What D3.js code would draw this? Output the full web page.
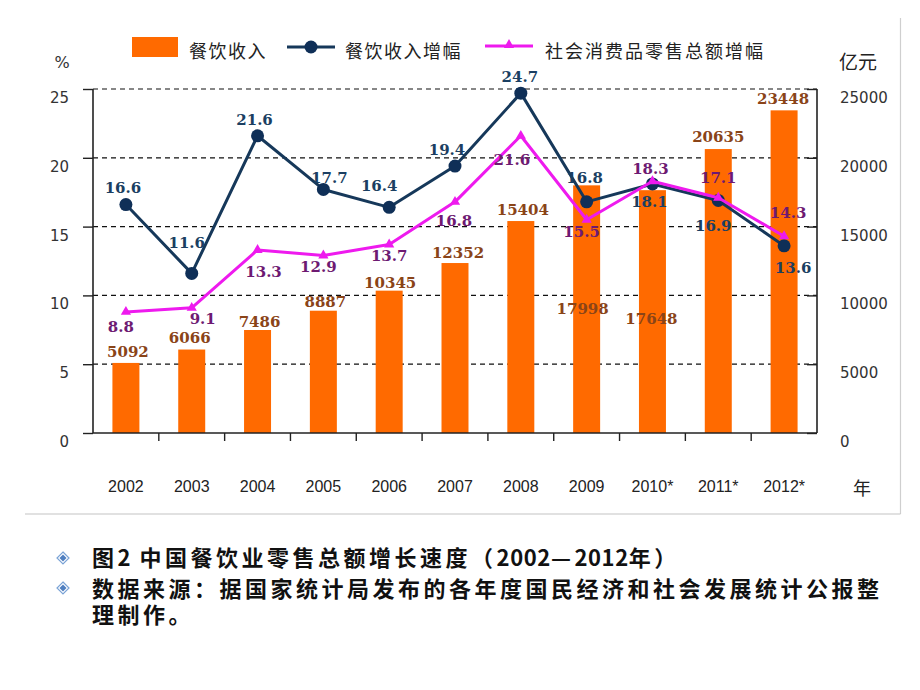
<!DOCTYPE html>
<html><head><meta charset="utf-8">
<script src="https://cdn.jsdelivr.net/npm/d3@7/dist/d3.min.js"></script>
<style>
html,body{margin:0;padding:0;background:#fff;}
svg{display:block;}
</style></head>
<body>
<svg id="chart" width="920" height="690"></svg>
<script>
// ---- data ----
const years = ["2002","2003","2004","2005","2006","2007","2008","2009","2010*","2011*","2012*"];
const revenue = [5092,6066,7486,8887,10345,12352,15404,17998,17648,20635,23448];
const revenueGrowth = [16.6,11.6,21.6,17.7,16.4,19.4,24.7,16.8,18.1,16.9,13.6];
const retailGrowth = [8.8,9.1,13.3,12.9,13.7,16.8,21.6,15.5,18.3,17.1,14.3];
const leftTicks = [0,5,10,15,20,25];
const rightTicks = [0,5000,10000,15000,20000,25000];
const legendLabels = ["餐饮收入","餐饮收入增幅","社会消费品零售总额增幅"];
const captionLines = ["图2 中国餐饮业零售总额增长速度（2002—2012年）",
  "数据来源：据国家统计局发布的各年度国民经济和社会发展统计公报整",
  "理制作。"];

// ---- label placement (layout) ----
const blueDx = [-3,-5,-3,6,-10,-8,-1,-2,-3,-5,9];
const blueDy = [-17,-30,-16,-11,-21,-16,-16,-24,18,26,22];
const pinkDx = [-5,11,6,-5,0,-1,-9,-5,-2,0,4];
const pinkDy = [15,11,22,12,12,19,24,12,-12,-20,-23];
const barDx = [2,-2,2,2,1,3,2,-4,-1,0,-1];
const barDy = [-11,-12,-8,-9,-8,-10,-11,124,129,-12,-11];

const svg = d3.select("#chart");
const L = 93, R = 817, T = 89, B = 433;

const x = d3.scaleBand().domain(years).range([L, R]).paddingInner(0.59).paddingOuter(0.295);
const yL = d3.scaleLinear().domain([0,25]).range([B, T]);
const yR = d3.scaleLinear().domain([0,25000]).range([B, T]);
const cx = d => x(d) + x.bandwidth()/2;

// frame lines (light grey)
svg.append("line").attr("x1",900.5).attr("x2",900.5).attr("y1",18).attr("y2",514)
  .attr("stroke","#cfcfcf").attr("stroke-width",1.2);
svg.append("line").attr("x1",25).attr("x2",900.5).attr("y1",514).attr("y2",514)
  .attr("stroke","#c4c4c4").attr("stroke-width",1.2);

// gridlines
svg.append("g").selectAll("line").data(leftTicks.filter(d=>d>0)).join("line")
  .attr("x1",L).attr("x2",R).attr("y1",d=>yL(d)).attr("y2",d=>yL(d))
  .attr("stroke","#111").attr("stroke-width",1.2).attr("stroke-dasharray","5,4");

// bars
svg.append("g").selectAll("rect").data(revenue).join("rect")
  .attr("x",(d,i)=>x(years[i])).attr("width",x.bandwidth())
  .attr("y",d=>yR(d)).attr("height",d=>B-yR(d))
  .attr("fill","#ff6a00");

// left axis
const gL = svg.append("g").attr("transform",`translate(${L},0)`)
  .call(d3.axisLeft(yL).tickValues(leftTicks).tickSize(10).tickPadding(14).tickFormat(d3.format("d")));
gL.select(".domain").attr("stroke","#222").attr("stroke-width",1.6).attr("d",`M0,${T}V${B}`);
gL.selectAll(".tick line").attr("stroke","#222").attr("stroke-width",1.4);
gL.selectAll(".tick text").attr("dy","0.9em").attr("font-family","DejaVu Sans").attr("font-size",15).attr("fill","#333");

// right axis
const gR = svg.append("g").attr("transform",`translate(${R},0)`)
  .call(d3.axisRight(yR).tickValues(rightTicks).tickSize(-10).tickPadding(23).tickFormat(d3.format("d")));
gR.select(".domain").attr("stroke","#222").attr("stroke-width",1.6).attr("d",`M0,${T}V${B}`);
gR.selectAll(".tick line").attr("stroke","#222").attr("stroke-width",1.4);
gR.selectAll(".tick text").attr("dy","0.9em").attr("font-family","DejaVu Sans").attr("font-size",15).attr("fill","#333");

// bottom axis
svg.append("line").attr("x1",L).attr("x2",R).attr("y1",B).attr("y2",B)
  .attr("stroke","#222").attr("stroke-width",1.6);
svg.append("g").selectAll("line").data(years.slice(1)).join("line")
  .attr("x1",d=>x(d)-x.step()*x.paddingInner()/2).attr("x2",d=>x(d)-x.step()*x.paddingInner()/2)
  .attr("y1",B).attr("y2",B+8).attr("stroke","#222").attr("stroke-width",1.4);
const gB = svg.append("g").attr("transform",`translate(0,${B})`)
  .call(d3.axisBottom(x).tickSize(0).tickPadding(48));
gB.select(".domain").remove();
gB.selectAll(".tick text").attr("font-family","Liberation Sans").attr("font-size",16).attr("fill","#222");

// unit labels
svg.append("text").attr("x",62).attr("y",62).attr("text-anchor","middle").attr("dominant-baseline","central")
  .attr("font-family","DejaVu Sans").attr("font-size",16).attr("fill","#333").text("%");
svg.append("text").attr("x",858).attr("y",60).attr("text-anchor","middle").attr("dominant-baseline","central")
  .attr("font-family","Noto Sans CJK SC").attr("font-size",19).attr("fill","#222").text("亿元");
svg.append("text").attr("x",862).attr("y",487).attr("text-anchor","middle").attr("dominant-baseline","central")
  .attr("font-family","Noto Sans CJK SC").attr("font-size",18).attr("fill","#222").text("年");

// lines
const lineL = d3.line().x((d,i)=>cx(years[i])).y(d=>yL(d));
svg.append("path").datum(revenueGrowth).attr("d",lineL).attr("fill","none")
  .attr("stroke","#16385a").attr("stroke-width",3).attr("stroke-linejoin","round");
svg.append("g").selectAll("circle").data(revenueGrowth).join("circle")
  .attr("cx",(d,i)=>cx(years[i])).attr("cy",d=>yL(d)).attr("r",6.5).attr("fill","#0f2f57");
svg.append("path").datum(retailGrowth).attr("d",lineL).attr("fill","none")
  .attr("stroke","#ee1aee").attr("stroke-width",3).attr("stroke-linejoin","round");
const tri = d3.symbol().type(d3.symbolTriangle).size(45);
svg.append("g").selectAll("path").data(retailGrowth).join("path")
  .attr("transform",(d,i)=>`translate(${cx(years[i])},${yL(d)})`).attr("d",tri).attr("fill","#ee1aee");

// value labels
const lblFont = "DejaVu Serif";
svg.append("g").selectAll("text").data(revenue).join("text")
  .attr("x",(d,i)=>cx(years[i])+barDx[i]).attr("y",(d,i)=>yR(d)+barDy[i])
  .attr("text-anchor","middle").attr("dominant-baseline","central")
  .attr("font-family",lblFont).attr("font-weight","bold").attr("font-size",15).attr("fill","#8a4418")
  .text(d=>d);
svg.append("g").selectAll("text").data(revenueGrowth).join("text")
  .attr("x",(d,i)=>cx(years[i])+blueDx[i]).attr("y",(d,i)=>yL(d)+blueDy[i])
  .attr("text-anchor","middle").attr("dominant-baseline","central")
  .attr("font-family",lblFont).attr("font-weight","bold").attr("font-size",15).attr("fill","#1b3f62")
  .text(d=>d.toFixed(1));
svg.append("g").selectAll("text").data(retailGrowth).join("text")
  .attr("x",(d,i)=>cx(years[i])+pinkDx[i]).attr("y",(d,i)=>yL(d)+pinkDy[i])
  .attr("text-anchor","middle").attr("dominant-baseline","central")
  .attr("font-family",lblFont).attr("font-weight","bold").attr("font-size",15).attr("fill","#6e1a72")
  .text(d=>d.toFixed(1));

// legend
const lg = svg.append("g").attr("font-family","Noto Sans CJK SC").attr("font-size",18).attr("fill","#222");
lg.append("rect").attr("x",132).attr("y",37).attr("width",46).attr("height",20).attr("fill","#ff6a00");
lg.append("text").attr("x",189).attr("y",50).attr("dominant-baseline","central").attr("letter-spacing",1.5).text(legendLabels[0]);
lg.append("line").attr("x1",287).attr("x2",335).attr("y1",47).attr("y2",47).attr("stroke","#16385a").attr("stroke-width",3);
lg.append("circle").attr("cx",311).attr("cy",47).attr("r",6.5).attr("fill","#0f2f57");
lg.append("text").attr("x",345).attr("y",50).attr("dominant-baseline","central").attr("letter-spacing",1.5).text(legendLabels[1]);
lg.append("line").attr("x1",485).attr("x2",533).attr("y1",46).attr("y2",46).attr("stroke","#ee1aee").attr("stroke-width",3);
lg.append("path").attr("transform","translate(509,45)").attr("d",tri).attr("fill","#ee1aee");
lg.append("text").attr("x",545).attr("y",50).attr("dominant-baseline","central").attr("letter-spacing",2).text(legendLabels[2]);

// caption
const capY = [556,587,613];
const cap = svg.append("g");
cap.selectAll("text").data(captionLines).join("text")
  .attr("x",92).attr("y",(d,i)=>capY[i]).attr("dominant-baseline","central")
  .attr("font-family","Noto Sans CJK SC").attr("font-weight","bold").attr("font-size",22)
  .attr("fill","#111")
  .each(function(d){
    const t = d3.select(this);
    d.split(/(\d+)/).filter(s=>s.length).forEach(seg=>{
      t.append("tspan").attr("letter-spacing", /^\d+$/.test(seg) ? 0.6 : 3.5).text(seg);
    });
  });
const bullets = [558,588];
bullets.forEach(by=>{
  cap.append("path").attr("d",`M63,${by-6}L69,${by}L63,${by+6}L57,${by}Z`)
    .attr("fill","none").attr("stroke","#7aa3d6").attr("stroke-width",1.2);
  cap.append("path").attr("d",`M63,${by-3.5}L66.5,${by}L63,${by+3.5}L59.5,${by}Z`)
    .attr("fill","#4f7fc0");
});
</script>
</body></html>
